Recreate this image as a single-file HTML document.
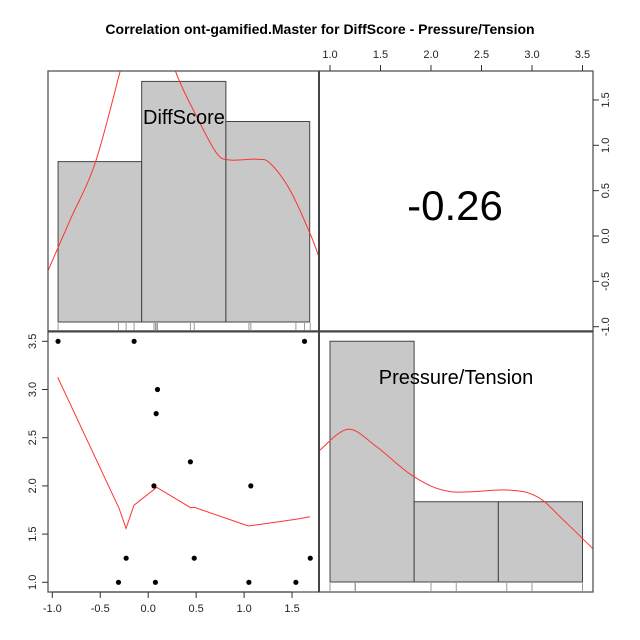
<!DOCTYPE html>
<html><head><meta charset="utf-8"><style>body{margin:0;background:#fff}svg{display:block;font-family:"Liberation Sans",sans-serif}</style></head>
<body>
<svg id="c" width="640" height="640" viewBox="0 0 640 640">
<text x="320" y="34" text-anchor="middle" font-size="14" font-weight="bold">Correlation ont-gamified.Master for DiffScore - Pressure/Tension</text>
</svg>
<script>
const diffScore=[-0.94,-0.147,1.63,0.097,0.083,0.44,0.06,1.07,-0.23,0.48,1.69,-0.31,0.075,1.05,1.54];
const pressure=[3.5,3.5,3.5,3.0,2.75,2.25,2.0,2.0,1.25,1.25,1.25,1.0,1.0,1.0,1.0];
const loessX=[-0.944,-0.304,-0.231,-0.148,0.088,0.443,0.481,1.044,1.534,1.687];
const loessY=[3.127,1.768,1.56,1.80,1.985,1.774,1.778,1.584,1.653,1.68];
const diffBreaks=[-0.94,-0.068,0.81,1.684];
const diffCounts=[4,6,5];
const diffDensX=[-1.052,-0.815,-0.555,-0.294,-0.15,0.0,0.15,0.287,0.506,0.714,0.853,1.131,1.27,1.479,1.687,1.784];
const diffDensY=[1.24,2.54,3.95,6.24,7.6,8.0,7.5,6.24,5.12,4.21,4.04,4.06,3.96,3.29,2.21,1.60];
const presBreaks=[1.0,1.833,2.667,3.5];
const presCounts=[9,3,3];
const presDensX=[0.9,1.18,1.46,1.83,2.19,2.75,3.05,3.31,3.61];
const presDensY=[4.93,5.71,5.06,3.94,3.38,3.44,3.19,2.32,1.22];
const corrValue="-0.26";
const xTicksDiff=["-1.0","-0.5","0.0","0.5","1.0","1.5"];
const yTicksPres=["1.0","1.5","2.0","2.5","3.0","3.5"];
const topTicks=["1.0","1.5","2.0","2.5","3.0","3.5"];
const rightTicks=["-1.0","-0.5","0.0","0.5","1.0","1.5"];

const svg=document.getElementById('c');
const NS='http://www.w3.org/2000/svg';
function mk(tag,attrs,parent){const e=document.createElementNS(NS,tag);for(const k in attrs)e.setAttribute(k,attrs[k]);(parent||svg).appendChild(e);return e;}
const sxD=v=>52.3+(v+1)*95.9;
const syP=v=>582.3-(v-1)*96.4;
const sxP=v=>330+(v-1)*101;
const cy1=c=>322-c*40.1;
const cy4=c=>582-c*26.75;
const syR=v=>326.7-(v+1)*90.7;
function smooth(pts){let d='M'+pts[0][0]+','+pts[0][1];for(let i=0;i<pts.length-1;i++){const p0=pts[i-1]||pts[i],p1=pts[i],p2=pts[i+1],p3=pts[i+2]||p2;d+=' C'+(p1[0]+(p2[0]-p0[0])/6)+','+(p1[1]+(p2[1]-p0[1])/6)+' '+(p2[0]-(p3[0]-p1[0])/6)+','+(p2[1]-(p3[1]-p1[1])/6)+' '+p2[0]+','+p2[1];}return d;}
const defs=mk('defs',{});
const c1=mk('clipPath',{id:'cp1'},defs);mk('rect',{x:48,y:71,width:271,height:260},c1);
const c4=mk('clipPath',{id:'cp4'},defs);mk('rect',{x:320,y:332,width:273,height:260},c4);

// panel 1 histogram
const g1=mk('g',{'clip-path':'url(#cp1)'});


diffCounts.forEach((c,i)=>{const r=mk('rect',{x:sxD(diffBreaks[i]),y:cy1(c),width:sxD(diffBreaks[i+1])-sxD(diffBreaks[i]),height:c*40.1,fill:'#c8c8c8',stroke:'#444','stroke-width':1},g1);

});
diffScore.forEach(v=>{const l=mk('line',{x1:sxD(v),x2:sxD(v),y1:323,y2:330,stroke:'#999','stroke-width':1},g1);

});
const d1=mk('path',{d:smooth(diffDensX.map((x,i)=>[sxD(x),cy1(diffDensY[i])])),fill:'none',stroke:'#ff3333','stroke-width':1},g1);


const t1=mk('text',{x:184,y:124,'text-anchor':'middle','font-size':20});t1.textContent='DiffScore';



// panel 4 histogram
const g4=mk('g',{'clip-path':'url(#cp4)'});


presCounts.forEach((c,i)=>{const r=mk('rect',{x:sxP(presBreaks[i]),y:cy4(c),width:sxP(presBreaks[i+1])-sxP(presBreaks[i]),height:c*26.75,fill:'#c8c8c8',stroke:'#444','stroke-width':1},g4);

});
pressure.forEach(v=>{const l=mk('line',{x1:sxP(v),x2:sxP(v),y1:583,y2:591,stroke:'#999','stroke-width':1},g4);

});
const d4=mk('path',{d:smooth(presDensX.map((x,i)=>[sxP(x),cy4(presDensY[i])])),fill:'none',stroke:'#ff3333','stroke-width':1},g4);


const t4=mk('text',{x:456,y:384,'text-anchor':'middle','font-size':20});t4.textContent='Pressure/Tension';



// correlation
const tc=mk('text',{x:455,y:220,'text-anchor':'middle','font-size':42});tc.textContent=corrValue;



// scatter
const lo=mk('polyline',{points:loessX.map((x,i)=>sxD(x)+','+syP(loessY[i])).join(' '),fill:'none',stroke:'#ff3333','stroke-width':1});


diffScore.forEach((v,i)=>{const c=mk('circle',{cx:sxD(v),cy:syP(pressure[i]),r:2.6,fill:'#000'});

});

// panel borders
[[48,71,271,260],[319,71,274,260],[48,331,271,261],[319,331,274,261]].forEach((b,i)=>{const r=mk('rect',{x:b[0],y:b[1],width:b[2],height:b[3],fill:'none',stroke:'#555','stroke-width':1.3});

});
mk('line',{x1:319,x2:319,y1:71,y2:592,stroke:'#444','stroke-width':2});
mk('line',{x1:48,x2:593,y1:331.5,y2:331.5,stroke:'#444','stroke-width':2});

// axes
function axis(labels,name,fn){const g=mk('g',{});labels.forEach(l=>fn(g,l));}
axis(xTicksDiff,'x-axis-diffscore',(g,l)=>{const x=sxD(parseFloat(l));mk('line',{x1:x,x2:x,y1:592,y2:598,stroke:'#333'},g);const t=mk('text',{x:x,y:612,'text-anchor':'middle','font-size':11,fill:'#222'},g);t.textContent=l;});
mk('line',{x1:sxD(-1),x2:sxD(1.5),y1:592,y2:592,stroke:'#333'});
axis(yTicksPres,'y-axis-pressure',(g,l)=>{const y=syP(parseFloat(l));mk('line',{x1:42,x2:48,y1:y,y2:y,stroke:'#333'},g);const t=mk('text',{x:0,y:0,'text-anchor':'middle','font-size':11,fill:'#222',transform:'translate(36,'+y+') rotate(-90)'},g);t.textContent=l;});
axis(topTicks,'top-axis-pressure',(g,l)=>{const x=sxP(parseFloat(l));mk('line',{x1:x,x2:x,y1:65,y2:71,stroke:'#333'},g);const t=mk('text',{x:x,y:58,'text-anchor':'middle','font-size':11,fill:'#222'},g);t.textContent=l;});
axis(rightTicks,'right-axis-diffscore',(g,l)=>{const y=syR(parseFloat(l));mk('line',{x1:593,x2:599,y1:y,y2:y,stroke:'#333'},g);const t=mk('text',{x:0,y:0,'text-anchor':'middle','font-size':11,fill:'#222',transform:'translate(609,'+y+') rotate(-90)'},g);t.textContent=l;});
</script>
</body></html>
